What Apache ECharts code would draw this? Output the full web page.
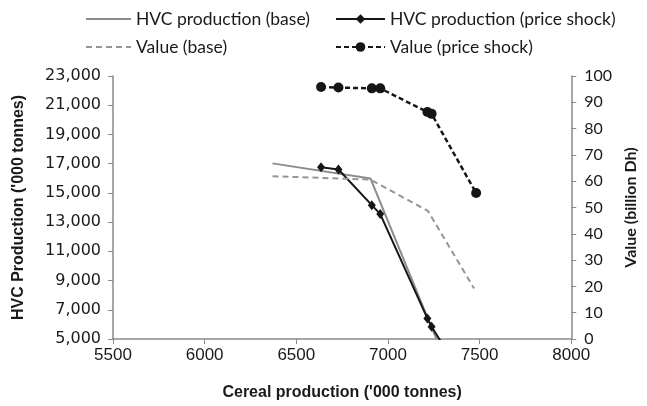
<!DOCTYPE html>
<html>
<head>
<meta charset="utf-8">
<script src="https://cdn.jsdelivr.net/npm/echarts@6/dist/echarts.min.js"></script>
<style>html,body{margin:0;padding:0;background:#fff}#c{width:647px;height:406px}</style>
</head>
<body>
<div id="c"></div>
<script>
// Cereal production ('000 tonnes) for each scenario point
const cerealBaseHvc = [6370, 6905, 7218, 7265];
const hvcBase = [17020, 15980, 6400, 5000];
const cerealBaseValue = [6370, 6905, 7218, 7470];
const valueBase = [61.9, 60.6, 48.7, 19.2];
const cerealShock = [6635, 6730, 6912, 6958, 7215, 7238, 7481];
const hvcShock = [16750, 16600, 14160, 13550, 6410, 5840, 1000];
const valueShock = [95.8, 95.6, 95.3, 95.3, 86.3, 85.6, 55.5];

const seriesNames = ['HVC production (base)', 'HVC production (price shock)', 'Value (base)', 'Value (price shock)'];

const pair = (xs, ys) => xs.map((x, i) => [x, ys[i]]);

const legendText = {fontFamily: 'Lato', fontSize: 17.5, color: '#1a1a1a', lineHeight: 20};
function legend(name, left, top, w, hideSymbol) {
  const item = hideSymbol ? {name: name, itemStyle: {opacity: 0}} : {name: name};
  return {data: [item], left: left, top: top, itemWidth: w, itemHeight: 12, itemGap: 0,
    textStyle: legendText, selectedMode: false};
}

const chart = echarts.init(document.getElementById('c'), null, {renderer: 'canvas'});
chart.setOption({
  animation: false,
  backgroundColor: '#fff',
  legend: [
    legend(seriesNames[0], 80, 4, 45, true),
    legend(seriesNames[1], 330, 4, 49, false),
    legend(seriesNames[2], 80, 32, 45, true),
    legend(seriesNames[3], 330, 32, 49, false)
  ],
  grid: {left: 113, right: 70, top: 76, bottom: 59, containLabel: false},
  xAxis: {
    type: 'value', min: 5500, max: 8000, interval: 500,
    name: "Cereal production ('000 tonnes)", nameLocation: 'middle', nameGap: 46,
    nameTextStyle: {fontFamily: 'Liberation Sans', fontWeight: 'bold', fontSize: 16, color: '#1a1a1a'},
    axisLine: {lineStyle: {color: '#8a8a8a', width: 1.5}},
    axisTick: {show: true, length: 5, lineStyle: {color: '#8a8a8a'}},
    axisLabel: {fontFamily: 'Liberation Sans', fontSize: 17, color: '#1a1a1a', margin: 8, formatter: v => String(v)},
    splitLine: {show: false}
  },
  yAxis: [{
    type: 'value', min: 5000, max: 23000, interval: 2000, position: 'left',
    name: "HVC Production ('000 tonnes)", nameLocation: 'middle', nameRotate: 90, nameGap: 86,
    nameTextStyle: {fontFamily: 'Liberation Sans', fontWeight: 'bold', fontSize: 16, color: '#1a1a1a'},
    axisLine: {show: true, lineStyle: {color: '#8a8a8a', width: 1.5}},
    axisTick: {show: true, length: 5, lineStyle: {color: '#8a8a8a'}},
    axisLabel: {fontFamily: 'DejaVu Sans', fontSize: 16, color: '#1a1a1a', margin: 12,
      formatter: v => v.toLocaleString('en-US')},
    splitLine: {show: false}
  }, {
    type: 'value', min: 0, max: 100, interval: 10, position: 'right',
    name: 'Value (billion Dh)', nameLocation: 'middle', nameRotate: 90, nameGap: 50,
    nameTextStyle: {fontFamily: 'Lato', fontWeight: 'bold', fontSize: 16, color: '#1a1a1a'},
    axisLine: {show: true, lineStyle: {color: '#8a8a8a', width: 1.5}},
    axisTick: {show: true, length: 5, lineStyle: {color: '#8a8a8a'}},
    axisLabel: {fontFamily: 'Lato', fontSize: 16, color: '#1a1a1a', margin: 13},
    splitLine: {show: false}
  }],
  series: [{
    name: seriesNames[0], type: 'line', yAxisIndex: 0, data: pair(cerealBaseHvc, hvcBase),
    symbol: 'none', clip: true,
    lineStyle: {color: '#8c8c8c', width: 2}, itemStyle: {color: '#8c8c8c'}
  }, {
    name: seriesNames[1], type: 'line', yAxisIndex: 0, data: pair(cerealShock, hvcShock),
    symbol: 'diamond', symbolSize: [8, 10], clip: true,
    lineStyle: {color: '#161616', width: 2}, itemStyle: {color: '#161616'}
  }, {
    name: seriesNames[2], type: 'line', yAxisIndex: 1, data: pair(cerealBaseValue, valueBase),
    symbol: 'none', clip: true,
    lineStyle: {color: '#959595', width: 2, type: [6, 4]}, itemStyle: {color: '#959595'}
  }, {
    name: seriesNames[3], type: 'line', yAxisIndex: 1, data: pair(cerealShock, valueShock),
    symbol: 'circle', symbolSize: 10, clip: true,
    lineStyle: {color: '#161616', width: 2.5, type: [5, 3]}, itemStyle: {color: '#161616'}
  }]
});
</script>
</body>
</html>
